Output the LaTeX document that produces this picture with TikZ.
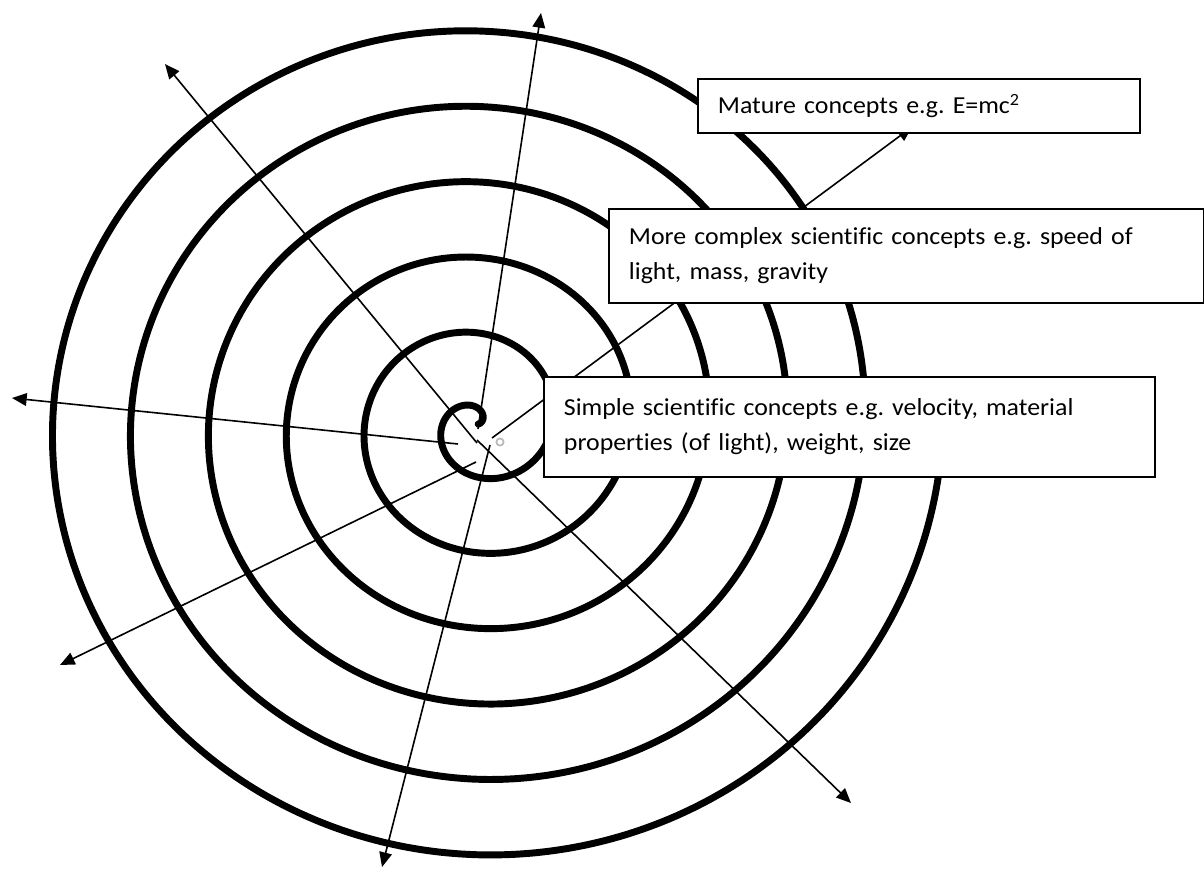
\documentclass[tikz,border=0pt]{standalone}
\usepackage{fontspec}
\setmainfont{Carlito}[FakeStretch=1.06,Ligatures=NoCommon]
\usetikzlibrary{arrows.meta}
\frenchspacing
\begin{document}
\begin{tikzpicture}[x=0.75pt,y=-0.75pt,
  spiralline/.style={line width=5.2pt,line cap=round,black},
  arr/.style={line width=1.2pt,-{Triangle[length=11pt,width=9.5pt]}},
  box/.style={draw,line width=1.4pt,fill=white,anchor=north west,inner xsep=15pt,inner ysep=0pt,align=left,
    font=\fontsize{18.3}{26.2}\selectfont}]
\useasboundingbox (0,0) rectangle (1204,871);
\fill[white] (0,0) rectangle (1204,871);
% spiral
\draw[spiralline] plot[domain=15:2163,samples=900,smooth]
  ({478.3+(-3.4+0.2167*\x)*cos(\x)},{424-(-3.3+0.2097*\x)*sin(\x)});
% centre points
\coordinate (cup) at (478,429);
\coordinate (cul) at (477,443);
\coordinate (cl) at (458,444);
\coordinate (cll) at (476,462);
\coordinate (cb) at (490,445);
\coordinate (clr) at (477,440);
\coordinate (cm) at (492,438);
% tips
\coordinate (tup) at (541,13);
\coordinate (tul) at (165,64);
\coordinate (tl) at (12,398);
\coordinate (tll) at (60,665);
\coordinate (tb) at (382,867);
\coordinate (tlr) at (851,803);
\coordinate (tm) at (912,127);
\draw[arr] (cup) -- (tup);
\draw[arr] (cul) -- (tul);
\draw[arr] (cl) -- (tl);
\draw[arr] (cll) -- (tll);
\draw[arr] (cb) -- (tb);
\draw[arr] (clr) -- (tlr);
\draw[arr] (cm) -- (tm);
\draw[gray!55,line width=1.3pt] (500,442) circle[radius=2.7pt];
% boxes
\node[box,minimum height=40.5pt,text width=301.5pt] (mature) at (697,78)
  {Mature concepts e.g. E=mc\textsuperscript{2}};
\node[box,minimum height=70.5pt,text width=416pt] (complex) at (608,208)
  {More complex scientific concepts e.g. speed of\\light, mass, gravity};
\node[box,minimum height=75pt,text width=428pt] (simple) at (543,376)
  {Simple scientific concepts e.g. velocity, material\\properties (of light), weight, size};
\end{tikzpicture}
\end{document}
